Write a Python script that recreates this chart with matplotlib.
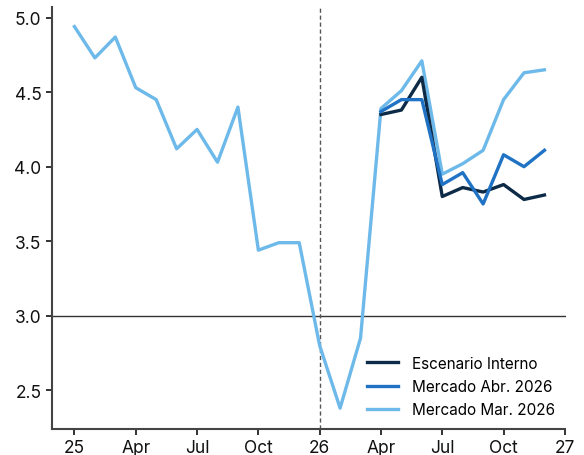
import matplotlib.pyplot as plt
import numpy as np

# months counted from Jan 2025 (0) to Dec 2026 (23)
months_mar = list(range(0, 24))
mercado_mar = [4.94, 4.73, 4.87, 4.53, 4.45, 4.12, 4.25, 4.03, 4.40, 3.44, 3.49, 3.49,
               2.80, 2.38, 2.85, 4.39, 4.51, 4.71, 3.95, 4.02, 4.11, 4.45, 4.63, 4.65]

months_fcst = list(range(15, 24))
escenario = [4.35, 4.38, 4.60, 3.80, 3.86, 3.83, 3.88, 3.78, 3.81]
mercado_abr = [4.37, 4.45, 4.45, 3.88, 3.96, 3.75, 4.08, 4.00, 4.11]

tick_pos = [0, 3, 6, 9, 12, 15, 18, 21, 24]
tick_lab = ['25', 'Apr', 'Jul', 'Oct', '26', 'Apr', 'Jul', 'Oct', '27']

plt.rcParams['font.family'] = ['Inter', 'DejaVu Sans']

fig = plt.figure(figsize=(5.84, 4.56), dpi=100)
ax = fig.add_axes([0.089, 0.057, 0.88, 0.925])

ax.axhline(3.0, color='#333333', lw=1.0, zorder=1)
ax.axvline(12, color='#555555', lw=1.0, ls=(0, (3, 2)), zorder=1)

ax.plot(months_fcst, escenario, color='#0d2a47', lw=2.4, label='Escenario Interno', zorder=3)
ax.plot(months_fcst, mercado_abr, color='#1f72c4', lw=2.4, label='Mercado Abr. 2026', zorder=4)
ax.plot(months_mar, mercado_mar, color='#6db9e9', lw=2.4, label='Mercado Mar. 2026', zorder=2)

ax.set_xlim(-1.1, 24.05)
ax.set_ylim(2.24, 5.07)
ax.set_xticks(tick_pos)
ax.set_xticklabels(tick_lab)
ax.set_yticks([2.5, 3.0, 3.5, 4.0, 4.5, 5.0])
ax.set_yticklabels(['2.5', '3.0', '3.5', '4.0', '4.5', '5.0'])

for s in ['top', 'right']:
    ax.spines[s].set_visible(False)
for s in ['left', 'bottom']:
    ax.spines[s].set_color('#444444')
    ax.spines[s].set_linewidth(1.5)
ax.spines['bottom'].set_bounds(-1.1, 24)
ax.tick_params(axis='both', labelsize=12.5, colors='#111111', length=4, width=1.2)

ax.legend(loc='lower right', bbox_to_anchor=(1.005, -0.005), frameon=False, fontsize=11,
          handlelength=2.0, labelspacing=0.55, handletextpad=0.9)

fig.savefig('out.png', dpi=100)
